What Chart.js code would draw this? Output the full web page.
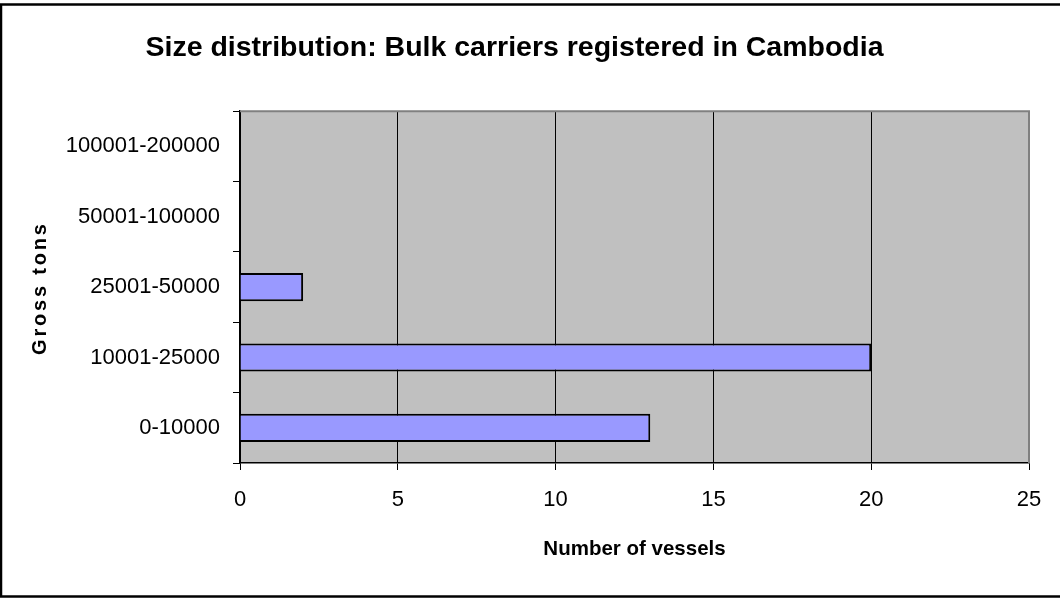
<!DOCTYPE html>
<html>
<head>
<meta charset="utf-8">
<script src="https://cdn.jsdelivr.net/npm/chart.js@4/dist/chart.umd.min.js"></script>
<style>
html,body{margin:0;padding:0;background:#fff;}
#wrap{width:1060px;height:599px;position:relative;}
</style>
</head>
<body>
<div id="wrap"><canvas id="c" width="1060" height="599"></canvas></div>
<script>
const categories = ['0-10000', '10001-25000', '25001-50000', '50001-100000', '100001-200000'];
const vessels = [13, 20, 2, 0, 0];
const xTicks = [0, 5, 10, 15, 20, 25];
const chartTitle = 'Size distribution: Bulk carriers registered in Cambodia';
const xTitle = 'Number of vessels';
const yTitle = 'Gross tons';

const FONT = "'Liberation Sans', Arial, sans-serif";

const decor = {
  id: 'decor',
  beforeDraw(chart) {
    const {ctx, chartArea: a} = chart;
    ctx.save();
    ctx.fillStyle = '#ffffff';
    ctx.fillRect(0, 0, chart.width, chart.height);
    ctx.fillStyle = '#c0c0c0';
    ctx.fillRect(a.left, a.top, a.right - a.left, a.bottom - a.top);
    ctx.restore();
  },
  afterDraw(chart) {
    const {ctx, chartArea: a} = chart;
    ctx.save();
    ctx.strokeStyle = '#808080';
    ctx.lineWidth = 2;
    ctx.beginPath();
    ctx.moveTo(a.left, a.top);
    ctx.lineTo(a.right, a.top);
    ctx.lineTo(a.right, a.bottom);
    ctx.stroke();
    ctx.strokeStyle = '#000';
    ctx.lineWidth = 2.5;
    ctx.strokeRect(1, 4.5, 1062, 592);
    ctx.fillStyle = '#000';
    ctx.font = 'bold 20.5px ' + FONT;
    ctx.textAlign = 'center';
    ctx.textBaseline = 'middle';
    ctx.fillText(xTitle, (a.left + a.right) / 2, 549);
    ctx.translate(40, (a.top + a.bottom) / 2 + 1);
    ctx.rotate(-Math.PI / 2);
    ctx.font = 'bold 20px ' + FONT;
    if ('letterSpacing' in ctx) ctx.letterSpacing = '2.8px';
    ctx.fillText(yTitle, 0, 0);
    ctx.restore();
  }
};

new Chart(document.getElementById('c'), {
  type: 'bar',
  data: {
    labels: categories,
    datasets: [{
      data: vessels,
      backgroundColor: '#9999ff',
      borderColor: '#000000',
      borderWidth: 2,
      barPercentage: 0.4,
      categoryPercentage: 1.0
    }]
  },
  options: {
    indexAxis: 'y',
    responsive: false,
    animation: false,
    devicePixelRatio: 1,
    layout: { padding: { left: 0, right: 31, top: 0, bottom: 0 } },
    plugins: {
      legend: { display: false },
      tooltip: { enabled: false },
      title: {
        display: true,
        text: chartTitle,
        color: '#000',
        font: { family: FONT, size: 28.5, weight: 'bold', lineHeight: 1.2 },
        padding: { top: 31, bottom: 46 }
      }
    },
    scales: {
      x: {
        type: 'linear',
        min: 0,
        max: 25,
        afterBuildTicks(s) { s.ticks = xTicks.map(v => ({ value: v })); },
        afterFit(s) { s.height = 136; },
        grid: { color: '#000000', lineWidth: 1, tickLength: 7, drawTicks: true },
        border: { display: true, color: '#000000', width: 1.5 },
        ticks: { color: '#000', font: { family: FONT, size: 22 }, padding: 17, maxRotation: 0 }
      },
      y: {
        type: 'category',
        reverse: true,
        afterFit(s) { s.width = 240; },
        grid: { drawOnChartArea: false, color: '#000000', tickLength: 7, offset: true },
        border: { display: true, color: '#000000', width: 1.5 },
        ticks: { color: '#000', font: { family: FONT, size: 22 }, padding: 13 }
      }
    }
  },
  plugins: [decor]
});
</script>
</body>
</html>
